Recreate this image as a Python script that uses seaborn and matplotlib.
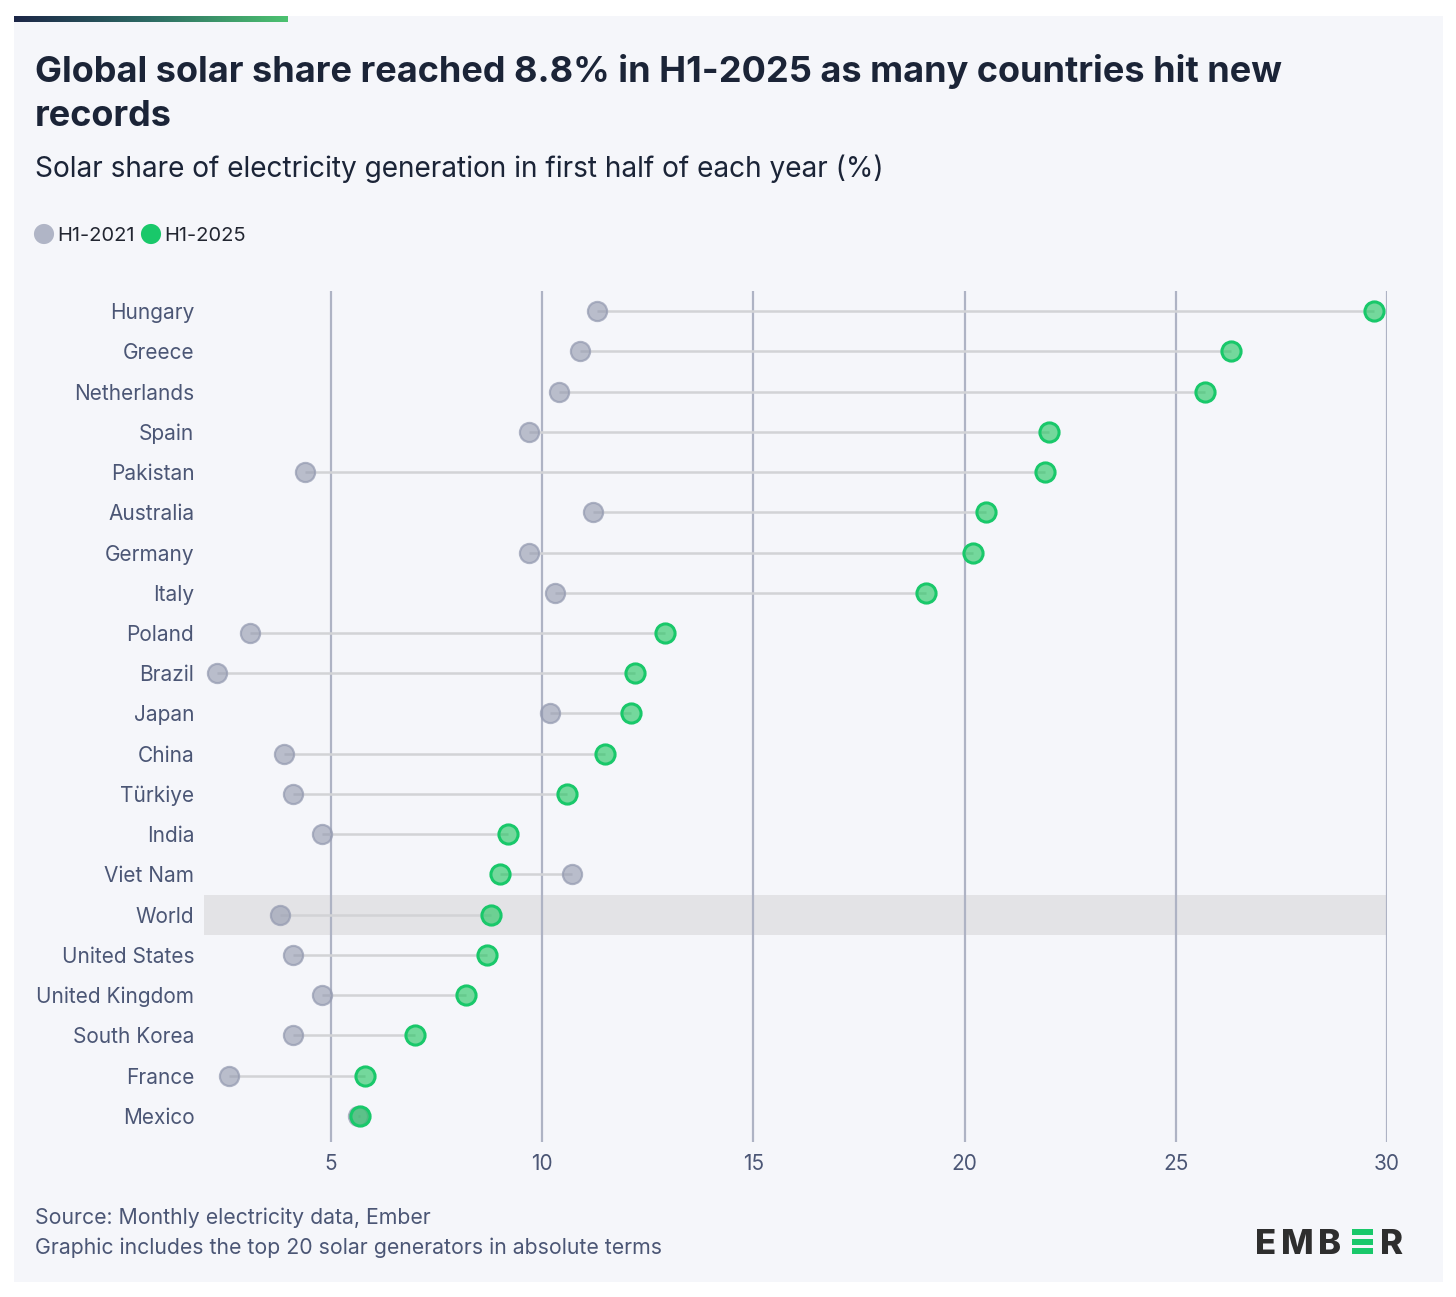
import matplotlib
matplotlib.use("Agg")
import matplotlib.pyplot as plt
from matplotlib.patches import Rectangle
from matplotlib.colors import LinearSegmentedColormap
import numpy as np
import pandas as pd
import seaborn as sns

countries = ["Hungary", "Greece", "Netherlands", "Spain", "Pakistan", "Australia",
             "Germany", "Italy", "Poland", "Brazil", "Japan", "China", "Türkiye",
             "India", "Viet Nam", "World", "United States", "United Kingdom",
             "South Korea", "France", "Mexico"]
h1_2021 = [11.3, 10.9, 10.4, 9.7, 4.4, 11.2, 9.7, 10.3, 3.1, 2.3, 10.2, 3.9, 4.1,
           4.8, 10.7, 3.8, 4.1, 4.8, 4.1, 2.6, 5.65]
h1_2025 = [29.7, 26.3, 25.7, 22.0, 21.9, 20.5, 20.2, 19.1, 12.9, 12.2, 12.1, 11.5,
           10.6, 9.2, 9.0, 8.8, 8.7, 8.2, 7.0, 5.8, 5.7]
x_ticks = [5, 10, 15, 20, 25, 30]
series_labels = ["H1-2021", "H1-2025"]

W, H = 1456, 1297
sns.set_theme(style="white")
FONT = ["Inter", "DejaVu Sans"]
plt.rcParams["font.family"] = FONT

BG = "#f5f6fa"
DARK = "#1b2437"
SLATE = "#4b5675"
GRID = "#aeb3c4"
GREY_FILL = (145/255, 151/255, 173/255, 0.6)
GREY_EDGE = (150/255, 156/255, 178/255, 0.75)
GREEN_FILL = (30/255, 196/255, 93/255, 0.6)
GREEN_EDGE = "#19c86a"

fig = plt.figure(figsize=(W/100, H/100), dpi=100, facecolor="white")

def fx(x):
    return x / W

def fy(y):
    return 1 - y / H

# panel background
fig.patches.append(Rectangle((fx(14), fy(1282)), fx(1443) - fx(14), fy(16) - fy(1282),
                             transform=fig.transFigure, facecolor=BG, edgecolor="none",
                             zorder=-10))
# gradient top bar
grad_ax = fig.add_axes([fx(14), fy(22), fx(288) - fx(14), fy(16) - fy(22)])
cmap = LinearSegmentedColormap.from_list("bar", ["#1c2647", "#2d6b64", "#4cc270"])
grad_ax.imshow(np.linspace(0, 1, 256)[None, :], aspect="auto", cmap=cmap)
grad_ax.axis("off")

ax = fig.add_axes([fx(204), fy(1142), fx(1387) - fx(204), fy(291) - fy(1142)])
ax.set_facecolor(BG)

df = pd.DataFrame({"country": countries, "h2021": h1_2021, "h2025": h1_2025})

world_idx = countries.index("World")
ax.axhspan(world_idx - 0.5, world_idx + 0.5, color="#e3e3e6", zorder=0.5, lw=0)

for x in x_ticks:
    ax.axvline(x, color=GRID, lw=1.6, zorder=1)

ax.hlines(df["country"], df["h2021"], df["h2025"], color="#d2d3d6", lw=1.8, zorder=2)

sns.scatterplot(data=df, x="h2021", y="country", ax=ax, s=190, color=GREY_FILL,
                edgecolor=GREY_EDGE, linewidth=1.6, zorder=3, legend=False)
sns.scatterplot(data=df, x="h2025", y="country", ax=ax, s=190, color=GREEN_FILL,
                edgecolor=GREEN_EDGE, linewidth=2.2, zorder=4, legend=False)

ax.set_xlim(2.0, 30.0)
ax.set_ylim(20.65, -0.5)
ax.set_xticks(x_ticks)
ax.set_xticklabels([str(t) for t in x_ticks])
ax.set_xlabel("")
ax.set_ylabel("")
for s in ax.spines.values():
    s.set_visible(False)
ax.tick_params(axis="x", length=0, pad=9, labelsize=15, labelcolor=SLATE)
ax.tick_params(axis="y", length=0, pad=7, labelsize=15, labelcolor=SLATE)
ax.grid(False)

# titles
fig.text(fx(35), fy(82), "Global solar share reached 8.8% in H1-2025 as many countries hit new",
         fontsize=26, fontweight="bold", color=DARK, va="baseline", ha="left")
fig.text(fx(35), fy(126), "records", fontsize=26, fontweight="bold", color=DARK,
         va="baseline", ha="left")
fig.text(fx(35), fy(177), "Solar share of electricity generation in first half of each year (%)",
         fontsize=20.2, color=DARK, va="baseline", ha="left")

# legend / logo overlay
leg_ax = fig.add_axes([0, 0, 1, 1], facecolor="none")
leg_ax.set_xlim(0, W)
leg_ax.set_ylim(H, 0)
leg_ax.axis("off")
leg_ax.scatter([44], [234], s=210, color="#b0b5c6", edgecolor="none")
leg_ax.scatter([151], [234], s=210, color="#19c86a", edgecolor="none")
leg_ax.text(57, 241, series_labels[0], fontsize=14.5, color="#222631", va="baseline", ha="left")
leg_ax.text(164, 241, series_labels[1], fontsize=14.5, color="#222631", va="baseline", ha="left")

# footer
fig.text(fx(35), fy(1224), "Source: Monthly electricity data, Ember", fontsize=15.3,
         color=SLATE, va="baseline", ha="left")
fig.text(fx(35), fy(1254), "Graphic includes the top 20 solar generators in absolute terms",
         fontsize=15.3, color=SLATE, va="baseline", ha="left")

# EMBER logo
for letter, xpos in [("E", 1255), ("M", 1281), ("B", 1318), ("R", 1380)]:
    leg_ax.text(xpos, 1254, letter, fontsize=25, fontweight="heavy", color="#2e2e2e",
                va="baseline", ha="left")
for yb in [1229, 1238.5, 1248]:
    leg_ax.add_patch(Rectangle((1352, yb), 21, 6, color="#19c86a", lw=0))

fig.savefig("out.png", dpi=100, facecolor="white")
